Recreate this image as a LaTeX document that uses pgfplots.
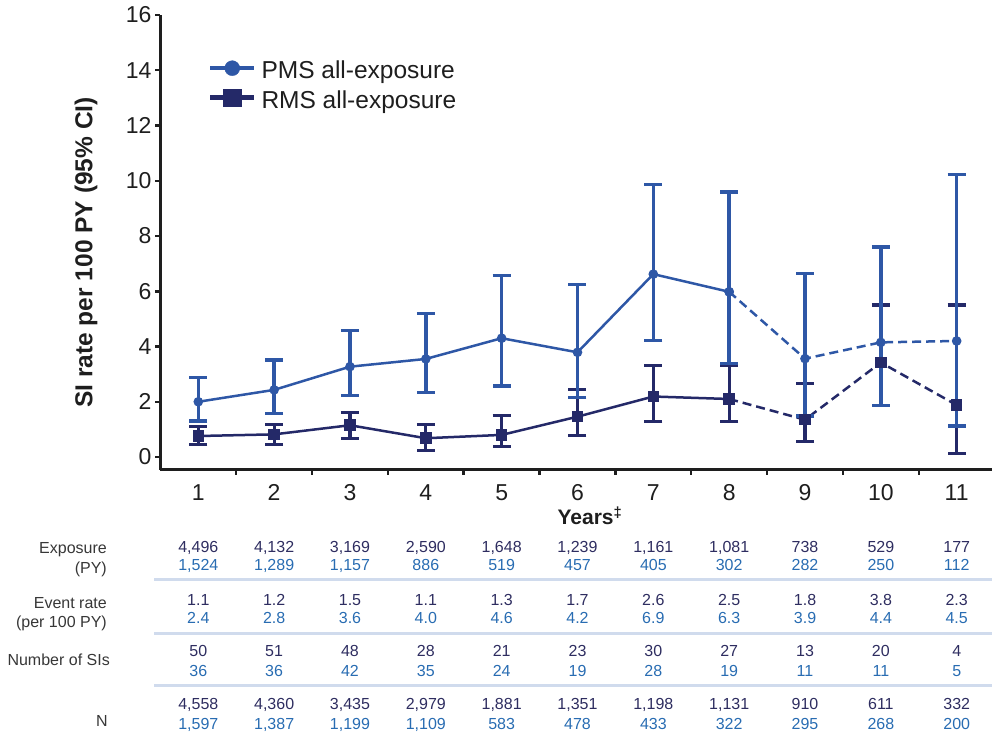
\documentclass[border=0pt]{standalone}
\usepackage{pgfplots}
\usepackage{pgfplotstable}
\pgfplotsset{compat=1.18}
\usepackage{fontspec}
\setmainfont{Liberation Sans}

\definecolor{pms}{RGB}{46,87,166}
\definecolor{rms}{RGB}{36,41,104}
\definecolor{tdark}{RGB}{46,45,96}
\definecolor{tblue}{RGB}{40,108,178}
\definecolor{sepc}{RGB}{208,219,237}
\definecolor{axc}{RGB}{30,30,30}
\definecolor{labc}{RGB}{55,55,55}

\pgfplotstableread{
x y ep em
1 2.00 0.87 0.69
2 2.43 1.08 0.85
3 3.27 1.31 1.05
4 3.55 1.65 1.21
5 4.30 2.27 1.73
6 3.79 2.45 1.64
7 6.62 3.24 2.41
8 5.98 3.62 2.59
}\pmsA
\pgfplotstableread{
x y ep em
8 5.98 3.62 2.59
9 3.56 3.09 2.07
10 4.15 3.45 2.29
11 4.20 6.03 3.08
}\pmsB
\pgfplotstableread{
x y ep em
1 0.76 0.34 0.30
2 0.82 0.36 0.36
3 1.15 0.47 0.47
4 0.68 0.50 0.45
5 0.80 0.70 0.43
6 1.46 0.99 0.69
7 2.19 1.11 0.91
8 2.10 1.23 0.82
}\rmsA
\pgfplotstableread{
x y ep em
8 2.10 1.23 0.82
9 1.35 1.32 0.80
10 3.42 2.08 1.56
11 1.88 3.62 1.75
}\rmsB

\tikzset{tv/.style={font=\fontsize{16}{19}\selectfont, anchor=base, inner sep=0pt},
  tl/.style={font=\fontsize{16}{19}\selectfont, text=labc, anchor=base east, inner sep=0pt}}
\newcommand\trow[3]{%
  \foreach \v [count=\i] in {#3} {\node[tv, text=#2] at ({198.3pt+(\i-1)*75.84pt},#1pt) {\v};}}

\begin{document}
\begin{tikzpicture}
\useasboundingbox (0pt,0pt) rectangle (992pt,736pt);
\begin{axis}[
  at={(160pt,266pt)}, anchor=south west,
  scale only axis, width=832pt, height=455pt,
  xmin=0.495, xmax=11.466, ymin=-0.47, ymax=16,
  axis lines=left,
  axis line style={-, line width=3pt, draw=axc},
  tick align=outside,
  major tick length=5pt,
  tick style={line width=2.5pt, draw=axc},
  ytick={0,2,...,16},
  xtick={1.5,2.5,...,10.5},
  xticklabels={},
  extra x ticks={1,2,...,11},
  extra x tick labels={1,2,3,4,5,6,7,8,9,10,11},
  extra x tick style={major tick length=0pt, tick style={draw=none}, xticklabel style={yshift=-11pt}},
  ticklabel style={font=\fontsize{23}{27}\selectfont, text=axc},
  /pgf/number format/assume math mode=true,
  xlabel={Years\textsuperscript{‡}},
  xlabel style={at={(axis description cs:0.5168,-0.101)}, anchor=center, font=\fontsize{21}{25}\selectfont\bfseries, text=axc},
  ylabel={SI rate per 100 PY (95\% CI)},
  ylabel style={at={(axis description cs:-0.0889,0.478)}, anchor=center, font=\fontsize{24.5}{28}\selectfont\bfseries, text=axc},
  clip=false,
  legend style={at={(axis description cs:0.0577,0.9000)}, anchor=north west, draw=none, fill=none, inner sep=0pt, outer sep=0pt, row sep=8.5pt, font=\fontsize{24.5}{28}\selectfont, text=axc, nodes={inner sep=0pt}, /tikz/every odd column/.append style={column sep=5pt}},
  legend cell align=left,
]
\addlegendimage{legend image code/.code={\draw[pms,line width=4.5pt] (0pt,2.5pt)--(44pt,2.5pt); \fill[pms] (22pt,2.5pt) circle (7.5pt);}}
\addlegendentry{PMS all-exposure}
\addlegendimage{legend image code/.code={\draw[rms,line width=4.5pt] (0pt,2.5pt)--(44pt,2.5pt); \fill[rms] (13pt,-6pt) rectangle (31pt,11pt);}}
\addlegendentry{RMS all-exposure}

\addplot[rms, line width=2.5pt, mark=square*, mark size=4.5pt, mark options={solid}, forget plot,
  error bars/.cd, y dir=both, y explicit, error bar style={line width=3.2pt, solid, rms}, error mark options={rotate=90, line width=3.2pt, mark size=9pt, solid, rms}]
  table[x=x, y=y, y error plus=ep, y error minus=em] {\rmsA};
\addplot[rms, line width=2.5pt, dash pattern=on 9pt off 5pt, mark=square*, mark size=4.5pt, mark options={solid}, forget plot,
  error bars/.cd, y dir=both, y explicit, error bar style={line width=3.2pt, solid, rms}, error mark options={rotate=90, line width=3.2pt, mark size=9pt, solid, rms}]
  table[x=x, y=y, y error plus=ep, y error minus=em] {\rmsB};
\addplot[pms, line width=2.5pt, mark=*, mark size=3.5pt, mark options={solid}, forget plot,
  error bars/.cd, y dir=both, y explicit, error bar style={line width=3.5pt, solid, pms}, error mark options={rotate=90, line width=3.5pt, mark size=9pt, solid, pms}]
  table[x=x, y=y, y error plus=ep, y error minus=em] {\pmsA};
\addplot[pms, line width=2.5pt, dash pattern=on 9pt off 5pt, mark=*, mark size=3.5pt, mark options={solid}, forget plot,
  error bars/.cd, y dir=both, y explicit, error bar style={line width=3.5pt, solid, pms}, error mark options={rotate=90, line width=3.5pt, mark size=9pt, solid, pms}]
  table[x=x, y=y, y error plus=ep, y error minus=em] {\pmsB};
\addplot[only marks, rms, mark=square*, mark size=4.5pt, forget plot] table[x=x, y=y] {\rmsA};
\addplot[only marks, rms, mark=square*, mark size=4.5pt, forget plot] table[x=x, y=y] {\rmsB};
\end{axis}

% table below the chart
\draw[sepc, line width=3pt] (154pt,156pt) -- (992pt,156pt);
\draw[sepc, line width=3pt] (154pt,102.7pt) -- (992pt,102.7pt);
\draw[sepc, line width=3pt] (154pt,50.3pt) -- (992pt,50.3pt);

\node[tl] at (107pt,182.3pt) {Exposure};
\node[tl] at (107pt,162.3pt) {(PY)};
\node[tl] at (107pt,127.3pt) {Event rate};
\node[tl] at (107pt,108.3pt) {(per 100 PY)};
\node[tl] at (110pt,70.3pt) {Number of SIs};
\node[tl] at (108pt,9.6pt) {N};

\trow{183.8}{tdark}{{4,496},{4,132},{3,169},{2,590},{1,648},{1,239},{1,161},{1,081},738,529,177}
\trow{165.3}{tblue}{{1,524},{1,289},{1,157},886,519,457,405,302,282,250,112}
\trow{130.3}{tdark}{1.1,1.2,1.5,1.1,1.3,1.7,2.6,2.5,1.8,3.8,2.3}
\trow{112.3}{tblue}{2.4,2.8,3.6,4.0,4.6,4.2,6.9,6.3,3.9,4.4,4.5}
\trow{79.3}{tdark}{50,51,48,28,21,23,30,27,13,20,4}
\trow{59.3}{tblue}{36,36,42,35,24,19,28,19,11,11,5}
\trow{26.3}{tdark}{{4,558},{4,360},{3,435},{2,979},{1,881},{1,351},{1,198},{1,131},910,611,332}
\trow{6.8}{tblue}{{1,597},{1,387},{1,199},{1,109},583,478,433,322,295,268,200}
\end{tikzpicture}
\end{document}
